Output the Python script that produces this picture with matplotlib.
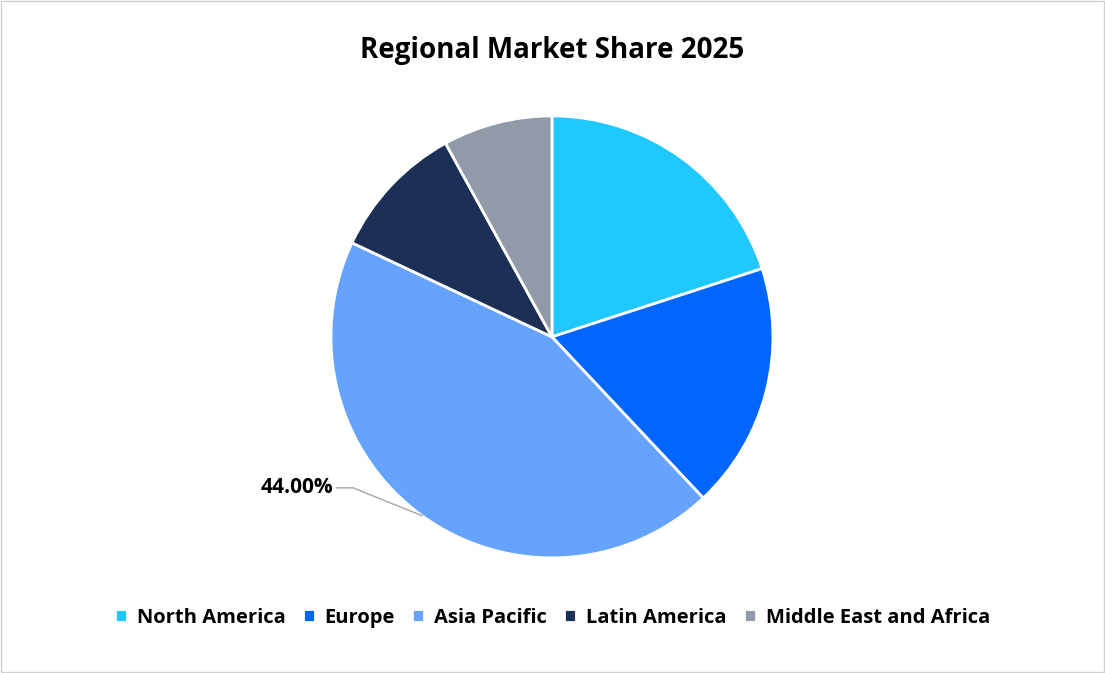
import matplotlib
matplotlib.use("Agg")
import matplotlib.pyplot as plt
import numpy as np
from matplotlib.patches import Rectangle

categories = ["North America", "Europe", "Asia Pacific", "Latin America", "Middle East and Africa"]
values = [20, 18, 44, 10, 8]
colors = ["#1FC8FF", "#0066FF", "#66A3FF", "#1B2F57", "#9299A8"]

plt.rcParams['font.family'] = ['Open Sans', 'DejaVu Sans']
fig = plt.figure(figsize=(11.05, 6.73), dpi=100)
fig.patches.append(Rectangle((0.001, 0.001), 0.998, 0.998, transform=fig.transFigure,
                             fill=False, edgecolor="#D0D0D0", linewidth=1))
ax = fig.add_axes([0.2995, 0.171, 0.4, 0.6568])
wedges, _ = ax.pie(values, colors=colors, startangle=90, counterclock=False,
                   wedgeprops=dict(edgecolor="white", linewidth=2))
ax.set_xlim(-1, 1)
ax.set_ylim(-1, 1)
ax.set_aspect("equal")

# label for Asia Pacific
i = 2
w = wedges[i]
mid = np.deg2rad((w.theta1 + w.theta2) / 2)
px, py = np.cos(mid), np.sin(mid)
ty = -0.683
ax.plot([-0.975, -0.9, px], [ty, ty, py], color="#A6A6A6", lw=1, clip_on=False)
ax.text(-0.99, ty, f"{values[i]:.2f}%", ha="right", va="center",
        fontsize=15, fontweight="bold")

fig.text(0.5, 0.925, "Regional Market Share 2025", ha="center", va="center",
         fontsize=20, fontweight="bold")
fig.legend(wedges, categories, loc="center", bbox_to_anchor=(0.5, 0.082), ncol=5,
           frameon=False, prop=dict(size=14.5, weight="bold"), handlelength=0.6,
           handleheight=0.6, handletextpad=0.5, columnspacing=0.85)
fig.savefig("out.png", dpi=100)
